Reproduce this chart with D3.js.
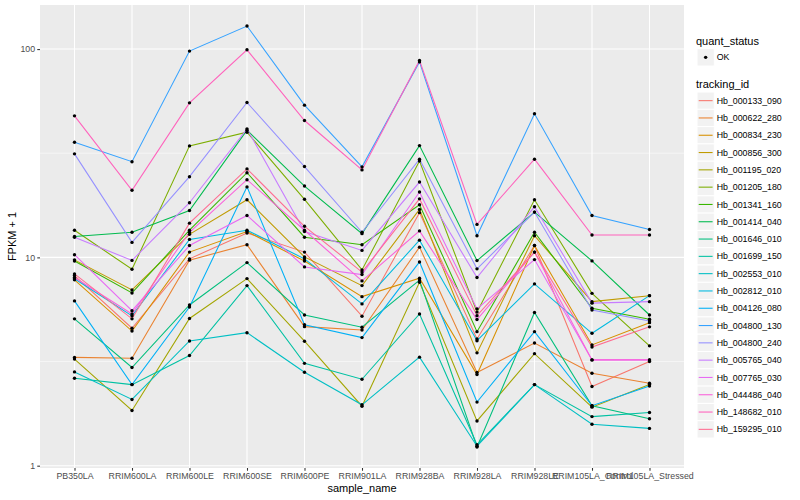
<!DOCTYPE html>
<html>
<head>
<meta charset="utf-8">
<script src="https://cdnjs.cloudflare.com/ajax/libs/d3/7.8.5/d3.min.js"></script>
<style>
body { margin: 0; background: #fff; }
svg { font-family: "Liberation Sans", Arial, sans-serif; }
.grid_major { stroke: #fff; stroke-width: 1.07; }
.grid_minor { stroke: #fff; stroke-width: 0.53; }
.tick text { fill: #4D4D4D; font-size: 8.8px; }
.tick line { stroke: #333; stroke-width: 1.07; }
</style>
</head>
<body>
<svg class="chart" width="800" height="500"></svg>
<script>
// categories on the x axis
var samples = ["PB350LA", "RRIM600LA", "RRIM600LE", "RRIM600SE", "RRIM600PE", "RRIM901LA",
               "RRIM928BA", "RRIM928LA", "RRIM928LE", "RRIM105LA_Control", "RRIM105LA_Stressed"]

var tracking_ids = ["Hb_000133_090", "Hb_000622_280", "Hb_000834_230", "Hb_000856_300", "Hb_001195_020",
                    "Hb_001205_180", "Hb_001341_160", "Hb_001414_040", "Hb_001646_010", "Hb_001699_150",
                    "Hb_002553_010", "Hb_002812_010", "Hb_004126_080", "Hb_004800_130", "Hb_004800_240",
                    "Hb_005765_040", "Hb_007765_030", "Hb_044486_040", "Hb_148682_010", "Hb_159295_010"]

// FPKM + 1, one value per sample
var Hb_000133_090 = [8.18, 4.57, 9.84, 13.1, 10.6, 5.22, 16.4, 4.06, 11.4, 2.40, 3.16]
var Hb_000622_280 = [3.31, 3.28, 9.7, 11.5, 4.65, 4.48, 11.2, 2.80, 3.88, 2.78, 2.49]
var Hb_000834_230 = [7.8, 4.43, 10.6, 13.3, 9.6, 6.48, 7.94, 2.74, 11.4, 3.80, 4.86]
var Hb_000856_300 = [9.73, 6.98, 12.9, 18.9, 10.05, 7.32, 17.0, 3.48, 12.7, 6.13, 6.55]
var Hb_001195_020 = [3.25, 1.84, 5.09, 7.91, 3.96, 1.93, 7.6, 1.64, 3.45, 1.91, 2.45]
var Hb_001205_180 = [13.5, 8.77, 34.3, 39.9, 19.0, 8.71, 29.0, 5.46, 18.9, 6.72, 3.76]
var Hb_001341_160 = [9.6, 6.75, 13.5, 25.5, 12.5, 11.5, 17.9, 4.40, 13.2, 5.70, 5.05]
var Hb_001414_040 = [12.6, 13.2, 16.8, 40.8, 22.0, 13.0, 34.4, 9.65, 16.5, 9.62, 5.29]
var Hb_001646_010 = [5.07, 2.96, 5.91, 9.44, 5.29, 4.62, 7.78, 1.23, 5.44, 1.94, 1.68]
var Hb_001699_150 = [2.63, 2.45, 3.38, 7.32, 3.10, 2.60, 5.35, 1.26, 2.45, 1.72, 1.80]
var Hb_002553_010 = [2.82, 2.08, 3.97, 4.35, 2.81, 1.96, 3.32, 1.24, 2.45, 1.58, 1.51]
var Hb_002812_010 = [7.9, 5.24, 12.2, 13.5, 9.84, 5.98, 12.1, 3.98, 7.46, 4.32, 6.55]
var Hb_004126_080 = [6.18, 2.45, 5.78, 21.8, 4.75, 4.12, 9.51, 2.02, 4.40, 1.94, 2.41]
var Hb_004800_130 = [35.7, 28.8, 97.8, 129, 53.8, 27.2, 86.8, 12.7, 48.9, 15.9, 13.6]
var Hb_004800_240 = [31.4, 11.8, 24.4, 55.4, 27.3, 13.2, 29.6, 8.81, 16.5, 5.59, 4.95]
var Hb_005765_040 = [12.5, 9.67, 18.3, 41.4, 13.3, 10.8, 23.0, 8.0, 17.5, 6.03, 6.13]
var Hb_007765_030 = [10.3, 5.55, 11.4, 15.9, 9.0, 8.27, 20.6, 5.66, 9.76, 3.22, 3.22]
var Hb_044486_040 = [8.0, 5.35, 13.2, 23.6, 13.5, 7.71, 13.4, 5.03, 10.6, 3.22, 3.22]
var Hb_148682_010 = [47.8, 21.0, 55.2, 99.2, 45.4, 26.3, 88.2, 14.4, 29.6, 12.8, 12.8]
var Hb_159295_010 = [8.33, 5.07, 14.6, 26.6, 14.1, 8.5, 19.1, 5.25, 10.6, 3.71, 4.64]

var series_values = [Hb_000133_090, Hb_000622_280, Hb_000834_230, Hb_000856_300, Hb_001195_020,
                     Hb_001205_180, Hb_001341_160, Hb_001414_040, Hb_001646_010, Hb_001699_150,
                     Hb_002553_010, Hb_002812_010, Hb_004126_080, Hb_004800_130, Hb_004800_240,
                     Hb_005765_040, Hb_007765_030, Hb_044486_040, Hb_148682_010, Hb_159295_010]

var y_ticks = [1, 10, 100]
var y_minor = [Math.sqrt(10), Math.sqrt(1000)]

var palette = ["#F8766D", "#EA8331", "#D89000", "#C09B00", "#A3A500", "#7CAE00", "#39B600", "#00BB4E",
               "#00BF7D", "#00C1A3", "#00BFC4", "#00BAE0", "#00B0F6", "#35A2FF", "#9590FF", "#C77CFF",
               "#E76BF3", "#FA62DB", "#FF62BC", "#FF6C91"]

var panel = {left: 40, right: 684, top: 5, bottom: 468}
var svg = d3.select(".chart")
var hue = d3.scaleOrdinal().domain(tracking_ids).range(palette)

var series = tracking_ids.map(function(id, i) {
    return {id: id, values: series_values[i].map(function(v, j) {return {sample: samples[j], y: v}})}
})

// ggplot style 5% expansion on the log scale
var all_logs = d3.merge(series_values).map(function(v) {return Math.log10(v)})
var lo = d3.min(all_logs), hi = d3.max(all_logs)
var pad = (hi - lo) * 0.05

var x_scaler = d3.scalePoint()
    .domain(samples)
    .range([panel.left, panel.right])
    .padding(0.6)

var y_scaler = d3.scaleLog()
    .domain([Math.pow(10, lo - pad), Math.pow(10, hi + pad)])
    .range([panel.bottom, panel.top])

svg.append("rect")
    .attr("x", panel.left).attr("y", panel.top)
    .attr("width", panel.right - panel.left).attr("height", panel.bottom - panel.top)
    .attr("fill", "#EBEBEB")

svg.selectAll(".grid_minor")
    .data(y_minor).enter().append("line")
    .classed("grid_minor", true)
    .attr("x1", panel.left).attr("x2", panel.right)
    .attr("y1", function(d) {return y_scaler(d)}).attr("y2", function(d) {return y_scaler(d)})

svg.selectAll(".grid_y")
    .data(y_ticks).enter().append("line")
    .classed("grid_major", true)
    .attr("x1", panel.left).attr("x2", panel.right)
    .attr("y1", function(d) {return y_scaler(d)}).attr("y2", function(d) {return y_scaler(d)})

svg.selectAll(".grid_x")
    .data(samples).enter().append("line")
    .classed("grid_major", true)
    .attr("x1", function(d) {return x_scaler(d)}).attr("x2", function(d) {return x_scaler(d)})
    .attr("y1", panel.top).attr("y2", panel.bottom)

var line = d3.line()
    .x(function(d) {return x_scaler(d.sample)})
    .y(function(d) {return y_scaler(d.y)})

svg.selectAll(".series")
    .data(series).enter().append("path")
    .classed("series", true)
    .attr("d", function(d) {return line(d.values)})
    .attr("fill", "none")
    .attr("stroke", function(d) {return hue(d.id)})
    .attr("stroke-width", 1.07)

svg.selectAll(".pt")
    .data(d3.merge(series.map(function(s) {return s.values}))).enter().append("circle")
    .classed("pt", true)
    .attr("cx", function(d) {return x_scaler(d.sample)})
    .attr("cy", function(d) {return y_scaler(d.y)})
    .attr("r", 1.7)
    .attr("fill", "#000")

// axes
var x_axis = svg.append("g")
    .attr("transform", "translate(0," + panel.bottom + ")")
    .call(d3.axisBottom(x_scaler).tickSize(2.74).tickPadding(2.2))
x_axis.select(".domain").remove()

var y_axis = svg.append("g")
    .attr("transform", "translate(" + panel.left + ",0)")
    .call(d3.axisLeft(y_scaler).tickValues(y_ticks).tickFormat(d3.format("d")).tickSize(2.74).tickPadding(2.2))
y_axis.select(".domain").remove()

svg.append("text")
    .attr("x", (panel.left + panel.right) / 2).attr("y", 492)
    .attr("text-anchor", "middle")
    .style("font-size", "11px")
    .text("sample_name")

svg.append("text")
    .attr("transform", "translate(16," + (panel.top + panel.bottom) / 2 + ") rotate(-90)")
    .attr("text-anchor", "middle")
    .style("font-size", "11px")
    .text("FPKM + 1")

// legends
var key_x = 697, key_w = 17.3, key_h = 17.3

svg.append("text").attr("x", 696).attr("y", 44.5).style("font-size", "11px").text("quant_status")
svg.append("rect").attr("x", key_x).attr("y", 48.7).attr("width", key_w).attr("height", key_h)
    .attr("fill", "#F2F2F2").attr("stroke", "#fff")
svg.append("circle").attr("cx", key_x + key_w / 2).attr("cy", 48.7 + key_h / 2).attr("r", 1.7).attr("fill", "#000")
svg.append("text").attr("x", 716.7).attr("y", 48.7 + key_h / 2).attr("dy", "0.35em")
    .style("font-size", "8.8px").text("OK")

svg.append("text").attr("x", 696).attr("y", 88).style("font-size", "11px").text("tracking_id")

var keys = svg.selectAll(".key")
    .data(tracking_ids).enter().append("g")
    .classed("key", true)
    .attr("transform", function(d, i) {return "translate(" + key_x + "," + (92 + i * key_h) + ")"})

keys.append("rect")
    .attr("width", key_w).attr("height", key_h)
    .attr("fill", "#F2F2F2").attr("stroke", "#fff")
keys.append("line")
    .attr("x1", 1.7).attr("x2", key_w - 1.7)
    .attr("y1", key_h / 2).attr("y2", key_h / 2)
    .attr("stroke", function(d) {return hue(d)})
    .attr("stroke-width", 1.07)
keys.append("text")
    .attr("x", 19.7).attr("y", key_h / 2).attr("dy", "0.35em")
    .style("font-size", "8.8px")
    .text(function(d) {return d})
</script>
</body>
</html>
